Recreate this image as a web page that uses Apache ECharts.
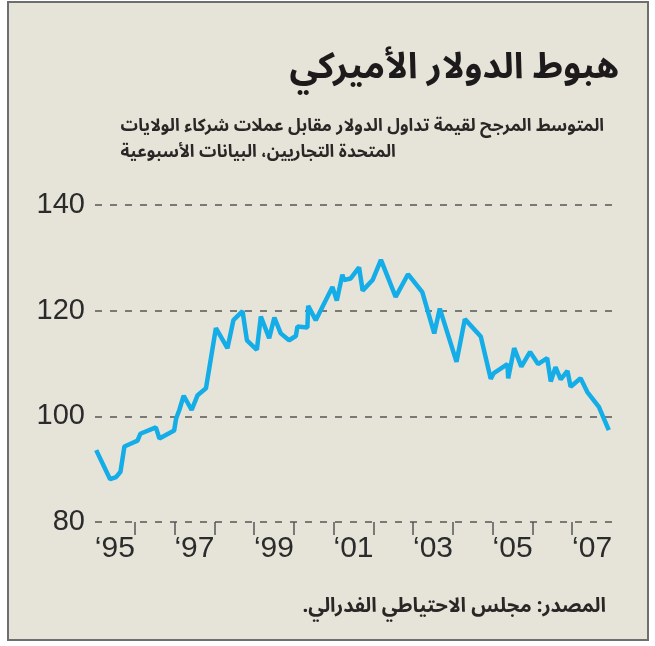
<!DOCTYPE html>
<html lang="ar">
<head>
    <meta charset="UTF-8">
    <title>هبوط الدولار الأميركي</title>
    <script src="https://cdn.jsdelivr.net/npm/echarts@6/dist/echarts.min.js"></script>
    <style>
        body { margin: 0; background: #fff; }
        .wrap { position: relative; width: 655px; height: 646px; }
        .box {
            position: absolute;
            left: 7px; top: 1px;
            width: 638px; height: 636px;
            background: #e6e4d8;
            border: 2px solid #6e6e6e;
        }
        #main { position: absolute; left: 0; top: 0; width: 655px; height: 646px; }
    </style>
</head>
<body>
<div class="wrap">
    <div class="box"></div>
    <div id="main"></div>
</div>
<script>
    // decimal year of each reading
    var years = [
        1995.03, 1995.38, 1995.53, 1995.64, 1995.74, 1995.95, 1996.07, 1996.14, 1996.53, 1996.62,
        1996.99, 1997.04, 1997.12, 1997.23, 1997.43, 1997.58, 1997.79, 1998.04, 1998.33, 1998.48,
        1998.71, 1998.82, 1999.07, 1999.17, 1999.38, 1999.51, 1999.67, 1999.88, 2000.05, 2000.09,
        2000.34, 2000.36, 2000.55, 2000.97, 2001.08, 2001.22, 2001.26, 2001.43, 2001.64, 2001.73,
        2001.98, 2002.19, 2002.56, 2002.87, 2003.23, 2003.53, 2003.67, 2004.09, 2004.30, 2004.70,
        2004.95, 2005.03, 2005.37, 2005.39, 2005.54, 2005.72, 2005.94, 2006.14, 2006.37, 2006.46,
        2006.58, 2006.71, 2006.88, 2006.96, 2007.21, 2007.38, 2007.67, 2007.92
    ];
    // trade-weighted dollar index
    var index = [
        93.6, 88.1, 88.5, 89.5, 94.3, 95.0, 95.4, 96.7, 97.9, 95.8,
        97.3, 99.6, 101.2, 103.9, 101.2, 104.0, 105.3, 116.7, 112.9, 118.2,
        119.9, 114.4, 112.6, 118.9, 114.8, 118.7, 115.7, 114.4, 115.2, 117.0,
        116.8, 120.9, 118.2, 124.5, 121.9, 126.8, 125.8, 126.1, 128.2, 123.8,
        125.8, 129.6, 122.6, 126.9, 123.5, 115.7, 120.4, 110.3, 118.4, 115.1,
        107.1, 108.2, 109.9, 107.2, 112.9, 109.4, 112.2, 109.9, 111.0, 106.6,
        109.3, 107.0, 108.6, 105.6, 107.2, 104.6, 101.8, 97.4
    ];
    var tickYears = [1996, 1997, 1998, 1999, 2000, 2001, 2002, 2003, 2004, 2005, 2006, 2007];
    var labelYears = [1995, 1997, 1999, 2001, 2003, 2005, 2007];

    var titleText = 'هبوط الدولار الأميركي';
    var subText = 'المتوسط المرجح لقيمة تداول الدولار مقابل عملات شركاء الولايات\nالمتحدة التجاريين، البيانات الأسبوعية';
    var sourceText = 'المصدر: مجلس الاحتياطي الفدرالي.\u200F';

    var arabicFont = '"Noto Sans Arabic", "DejaVu Sans", sans-serif';
    var numFont = '"Liberation Sans Narrow", "Liberation Sans", sans-serif';

    var points = years.map(function (y, i) { return [y, index[i]]; });

    var chart = echarts.init(document.getElementById('main'), null, { renderer: 'canvas' });

    chart.setOption({
        backgroundColor: 'transparent',
        animation: false,
        title: [
            {
                text: titleText,
                right: 31, top: 50,
                textStyle: { fontFamily: arabicFont, fontSize: 36, fontWeight: 'bold', color: '#1c1a1a' }
            },
            {
                text: subText,
                right: 46, top: 110,
                textStyle: { fontFamily: arabicFont, fontSize: 17.3, fontWeight: 'bold', color: '#2a2626', lineHeight: 26 }
            },
            {
                text: sourceText,
                right: 44, top: 594,
                textStyle: { fontFamily: arabicFont, fontSize: 20, fontWeight: 'bold', color: '#2a2626' }
            }
        ],
        grid: { left: 95, right: 43, top: 205, bottom: 124 },
        xAxis: {
            type: 'value',
            min: 1995,
            max: 2008,
            axisLine: { show: false },
            splitLine: { show: false },
            axisTick: {
                show: true,
                customValues: tickYears,
                length: 13,
                lineStyle: { color: '#555', width: 1.5 }
            },
            axisLabel: {
                customValues: labelYears.map(function (y) { return y + 0.5; }),
                formatter: function (v) { return '\u2018' + String(Math.floor(v)).slice(2); },
                fontFamily: numFont,
                fontSize: 30,
                color: '#2b2b2b',
                margin: 12
            }
        },
        yAxis: {
            type: 'value',
            min: 80,
            max: 140,
            interval: 20,
            axisLine: { show: false },
            axisTick: { show: false },
            axisLabel: { fontFamily: numFont, fontSize: 29, color: '#2b2b2b', margin: 10 },
            splitLine: { lineStyle: { type: [7, 8], color: '#555', width: 1.5 } }
        },
        series: [{
            type: 'line',
            data: points,
            showSymbol: false,
            lineStyle: { color: '#15ade8', width: 4.5 }
        }]
    });
</script>
</body>
</html>
